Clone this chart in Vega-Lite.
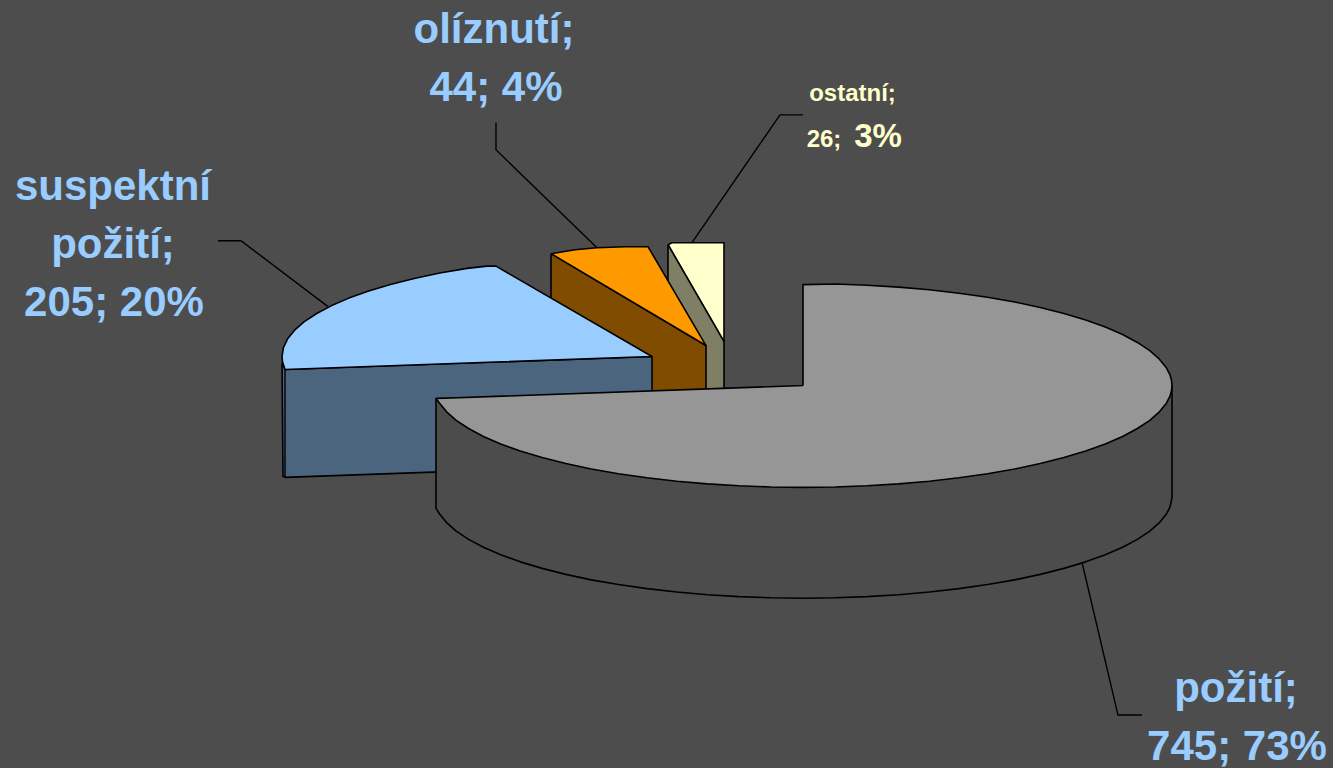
{"$schema":"https://vega.github.io/schema/vega-lite/v6.json","width":1333,"height":768,"padding":0,"autosize":{"type":"fit","contains":"padding"},"background":"#4d4d4d","config":{"view":{"stroke":null}},"datasets":{"outline":[
{"part":"cream top","n":0,"x":668,"y":245},{"part":"cream top","n":1,"x":672,"y":243},{"part":"cream top","n":2,"x":724,"y":243},{"part":"cream top","n":3,"x":724,"y":342},{"part":"cream top","n":4,"x":668,"y":245},
{"part":"cream wall","n":0,"x":668,"y":245},{"part":"cream wall","n":1,"x":724,"y":342},{"part":"cream wall","n":2,"x":724,"y":395},{"part":"cream wall","n":3,"x":668,"y":395},{"part":"cream wall","n":4,"x":668,"y":245},
{"part":"orange wall","n":0,"x":551,"y":254},{"part":"orange wall","n":1,"x":706,"y":346},{"part":"orange wall","n":2,"x":706,"y":395},{"part":"orange wall","n":3,"x":551,"y":395},{"part":"orange wall","n":4,"x":551,"y":254},
{"part":"orange top","n":0,"x":551,"y":254},{"part":"orange top","n":1,"x":575,"y":250},{"part":"orange top","n":2,"x":597,"y":248},{"part":"orange top","n":3,"x":625,"y":247},{"part":"orange top","n":4,"x":648,"y":247},{"part":"orange top","n":5,"x":706,"y":346},{"part":"orange top","n":6,"x":551,"y":254},
{"part":"blue wall","n":0,"x":282,"y":363},{"part":"blue wall","n":1,"x":283,"y":477},{"part":"blue wall","n":2,"x":285,"y":478},{"part":"blue wall","n":3,"x":652,"y":465},{"part":"blue wall","n":4,"x":652,"y":357},{"part":"blue wall","n":5,"x":285,"y":370},{"part":"blue wall","n":6,"x":282,"y":363},
{"part":"blue top","n":0,"x":285,"y":370},{"part":"blue top","n":1,"x":282.5,"y":362.3},{"part":"blue top","n":2,"x":282,"y":357},{"part":"blue top","n":3,"x":283.4,"y":348.1},{"part":"blue top","n":4,"x":287.6,"y":339.3},{"part":"blue top","n":5,"x":294.6,"y":330.6},{"part":"blue top","n":6,"x":304.3,"y":322.1},{"part":"blue top","n":7,"x":316.7,"y":313.9},{"part":"blue top","n":8,"x":331.6,"y":306},{"part":"blue top","n":9,"x":348.9,"y":298.5},{"part":"blue top","n":10,"x":368.6,"y":291.4},{"part":"blue top","n":11,"x":390.4,"y":284.9},{"part":"blue top","n":12,"x":414.2,"y":278.9},{"part":"blue top","n":13,"x":439.8,"y":273.4},{"part":"blue top","n":14,"x":467,"y":268.7},{"part":"blue top","n":15,"x":487,"y":266.5},{"part":"blue top","n":16,"x":496,"y":266.5},{"part":"blue top","n":17,"x":652,"y":357},{"part":"blue top","n":18,"x":285,"y":370},
{"part":"grey wall","n":0,"x":436,"y":399},{"part":"grey wall","n":1,"x":436,"y":509},{"part":"grey wall","n":2,"x":439.6,"y":514.7},{"part":"grey wall","n":3,"x":446.6,"y":523.4},{"part":"grey wall","n":4,"x":456.2,"y":531.9},{"part":"grey wall","n":5,"x":468.6,"y":540.1},{"part":"grey wall","n":6,"x":483.4,"y":548},{"part":"grey wall","n":7,"x":500.7,"y":555.5},{"part":"grey wall","n":8,"x":520.3,"y":562.6},{"part":"grey wall","n":9,"x":542.1,"y":569.1},{"part":"grey wall","n":10,"x":565.8,"y":575.1},{"part":"grey wall","n":11,"x":591.3,"y":580.6},{"part":"grey wall","n":12,"x":618.5,"y":585.3},{"part":"grey wall","n":13,"x":647,"y":589.4},{"part":"grey wall","n":14,"x":676.8,"y":592.8},{"part":"grey wall","n":15,"x":707.5,"y":595.5},{"part":"grey wall","n":16,"x":738.9,"y":597.4},{"part":"grey wall","n":17,"x":770.8,"y":598.6},{"part":"grey wall","n":18,"x":803,"y":599},{"part":"grey wall","n":19,"x":835.2,"y":598.6},{"part":"grey wall","n":20,"x":867.1,"y":597.4},{"part":"grey wall","n":21,"x":898.5,"y":595.5},{"part":"grey wall","n":22,"x":929.2,"y":592.8},{"part":"grey wall","n":23,"x":959,"y":589.4},{"part":"grey wall","n":24,"x":987.5,"y":585.3},{"part":"grey wall","n":25,"x":1014.7,"y":580.6},{"part":"grey wall","n":26,"x":1040.2,"y":575.1},{"part":"grey wall","n":27,"x":1063.9,"y":569.1},{"part":"grey wall","n":28,"x":1085.7,"y":562.6},{"part":"grey wall","n":29,"x":1105.3,"y":555.5},{"part":"grey wall","n":30,"x":1122.6,"y":548},{"part":"grey wall","n":31,"x":1137.4,"y":540.1},{"part":"grey wall","n":32,"x":1149.8,"y":531.9},{"part":"grey wall","n":33,"x":1159.4,"y":523.4},{"part":"grey wall","n":34,"x":1166.4,"y":514.7},{"part":"grey wall","n":35,"x":1170,"y":507.7},{"part":"grey wall","n":36,"x":1172,"y":498},{"part":"grey wall","n":37,"x":1172,"y":386},{"part":"grey wall","n":38,"x":436,"y":399},
{"part":"grey top","n":0,"x":803,"y":386},{"part":"grey top","n":1,"x":803,"y":285},{"part":"grey top","n":2,"x":835.2,"y":284.4},{"part":"grey top","n":3,"x":867.1,"y":285.6},{"part":"grey top","n":4,"x":898.5,"y":287.5},{"part":"grey top","n":5,"x":929.2,"y":290.2},{"part":"grey top","n":6,"x":959,"y":293.6},{"part":"grey top","n":7,"x":987.5,"y":297.7},{"part":"grey top","n":8,"x":1014.7,"y":302.4},{"part":"grey top","n":9,"x":1040.2,"y":307.9},{"part":"grey top","n":10,"x":1063.9,"y":313.9},{"part":"grey top","n":11,"x":1085.7,"y":320.4},{"part":"grey top","n":12,"x":1105.3,"y":327.5},{"part":"grey top","n":13,"x":1122.6,"y":335},{"part":"grey top","n":14,"x":1137.4,"y":342.9},{"part":"grey top","n":15,"x":1149.8,"y":351.1},{"part":"grey top","n":16,"x":1159.4,"y":359.6},{"part":"grey top","n":17,"x":1166.4,"y":368.3},{"part":"grey top","n":18,"x":1170,"y":375.3},{"part":"grey top","n":19,"x":1171.5,"y":380.7},{"part":"grey top","n":20,"x":1172,"y":386},{"part":"grey top","n":21,"x":1171.5,"y":391.3},{"part":"grey top","n":22,"x":1170,"y":396.7},{"part":"grey top","n":23,"x":1166.4,"y":403.7},{"part":"grey top","n":24,"x":1159.4,"y":412.4},{"part":"grey top","n":25,"x":1149.8,"y":420.9},{"part":"grey top","n":26,"x":1137.4,"y":429.1},{"part":"grey top","n":27,"x":1122.6,"y":437},{"part":"grey top","n":28,"x":1105.3,"y":444.5},{"part":"grey top","n":29,"x":1085.7,"y":451.6},{"part":"grey top","n":30,"x":1063.9,"y":458.1},{"part":"grey top","n":31,"x":1040.2,"y":464.1},{"part":"grey top","n":32,"x":1014.7,"y":469.6},{"part":"grey top","n":33,"x":987.5,"y":474.3},{"part":"grey top","n":34,"x":959,"y":478.4},{"part":"grey top","n":35,"x":929.2,"y":481.8},{"part":"grey top","n":36,"x":898.5,"y":484.5},{"part":"grey top","n":37,"x":867.1,"y":486.4},{"part":"grey top","n":38,"x":835.2,"y":487.6},{"part":"grey top","n":39,"x":803,"y":488},{"part":"grey top","n":40,"x":770.8,"y":487.6},{"part":"grey top","n":41,"x":738.9,"y":486.4},{"part":"grey top","n":42,"x":707.5,"y":484.5},{"part":"grey top","n":43,"x":676.8,"y":481.8},{"part":"grey top","n":44,"x":647,"y":478.4},{"part":"grey top","n":45,"x":618.5,"y":474.3},{"part":"grey top","n":46,"x":591.3,"y":469.6},{"part":"grey top","n":47,"x":565.8,"y":464.1},{"part":"grey top","n":48,"x":542.1,"y":458.1},{"part":"grey top","n":49,"x":520.3,"y":451.6},{"part":"grey top","n":50,"x":500.7,"y":444.5},{"part":"grey top","n":51,"x":483.4,"y":437},{"part":"grey top","n":52,"x":468.6,"y":429.1},{"part":"grey top","n":53,"x":456.2,"y":420.9},{"part":"grey top","n":54,"x":446.6,"y":412.4},{"part":"grey top","n":55,"x":439.6,"y":403.7},{"part":"grey top","n":56,"x":436,"y":399},{"part":"grey top","n":57,"x":803,"y":386}
],"leaders":[
{"leader":"ostatni","n":0,"x":692,"y":243},{"leader":"ostatni","n":1,"x":780,"y":115},{"leader":"ostatni","n":2,"x":803,"y":115},
{"leader":"oliznuti","n":0,"x":597,"y":248},{"leader":"oliznuti","n":1,"x":496,"y":150},{"leader":"oliznuti","n":2,"x":496,"y":123},
{"leader":"suspektni","n":0,"x":328,"y":307},{"leader":"suspektni","n":1,"x":241,"y":241},{"leader":"suspektni","n":2,"x":218,"y":241},
{"leader":"poziti","n":0,"x":1082,"y":563},{"leader":"poziti","n":1,"x":1118,"y":716},{"leader":"poziti","n":2,"x":1142,"y":716},
{"leader":"edge","n":0,"x":285,"y":370},{"leader":"edge","n":1,"x":285,"y":478}
],"labels":[
{"text":"olíznutí;","x":494,"y":43,"tone":"blue","scale":"large"},{"text":"44; 4%","x":496,"y":101,"tone":"blue","scale":"large"},
{"text":"suspektní","x":113,"y":200,"tone":"blue","scale":"large"},{"text":"požití;","x":113,"y":258,"tone":"blue","scale":"large"},{"text":"205; 20%","x":114,"y":316,"tone":"blue","scale":"large"},
{"text":"požití;","x":1236,"y":703,"tone":"blue","scale":"large"},{"text":"745; 73%","x":1237,"y":761,"tone":"blue","scale":"large"},
{"text":"ostatní;","x":852.5,"y":101,"tone":"cream","scale":"small"},{"text":"26;","x":824,"y":147,"tone":"cream","scale":"small"},{"text":"3%","x":878,"y":147,"tone":"cream","scale":"medium"}
]},
"layer":[
{"data":{"name":"outline"},"mark":{"type":"line","stroke":"#000000","strokeWidth":1.6,"strokeJoin":"round"},"encoding":{
"x":{"field":"x","type":"quantitative","scale":{"domain":[0,1333],"nice":false,"zero":false},"axis":null},
"y":{"field":"y","type":"quantitative","scale":{"domain":[768,0],"nice":false,"zero":false},"axis":null},
"order":{"field":"n","type":"quantitative"},
"detail":{"field":"part"},
"fill":{"field":"part","type":"nominal","legend":null,"scale":{"domain":["cream top","cream wall","orange wall","orange top","blue wall","blue top","grey wall","grey top"],"range":["#ffffcc","#7f7f66","#804d00","#ff9900","#4c657f","#99ccff","#4c4c4c","#969696"]}}}},
{"data":{"name":"leaders"},"mark":{"type":"line","stroke":"#000000","strokeWidth":1.4},"encoding":{
"x":{"field":"x","type":"quantitative","scale":{"domain":[0,1333],"nice":false,"zero":false},"axis":null},
"y":{"field":"y","type":"quantitative","scale":{"domain":[768,0],"nice":false,"zero":false},"axis":null},
"order":{"field":"n","type":"quantitative"},"detail":{"field":"leader"}}},
{"data":{"name":"labels"},"mark":{"type":"text","font":"Liberation Sans","fontWeight":"bold","align":"center","baseline":"alphabetic"},"encoding":{
"x":{"field":"x","type":"quantitative","scale":{"domain":[0,1333],"nice":false,"zero":false},"axis":null},
"y":{"field":"y","type":"quantitative","scale":{"domain":[768,0],"nice":false,"zero":false},"axis":null},
"text":{"field":"text"},
"color":{"field":"tone","type":"nominal","legend":null,"scale":{"domain":["blue","cream"],"range":["#99ccff","#ffffcc"]}},
"size":{"field":"scale","type":"ordinal","legend":null,"scale":{"type":"ordinal","domain":["small","medium","large"],"range":[24,33,42]}}}}
],"resolve":{"scale":{"color":"independent"}}}
